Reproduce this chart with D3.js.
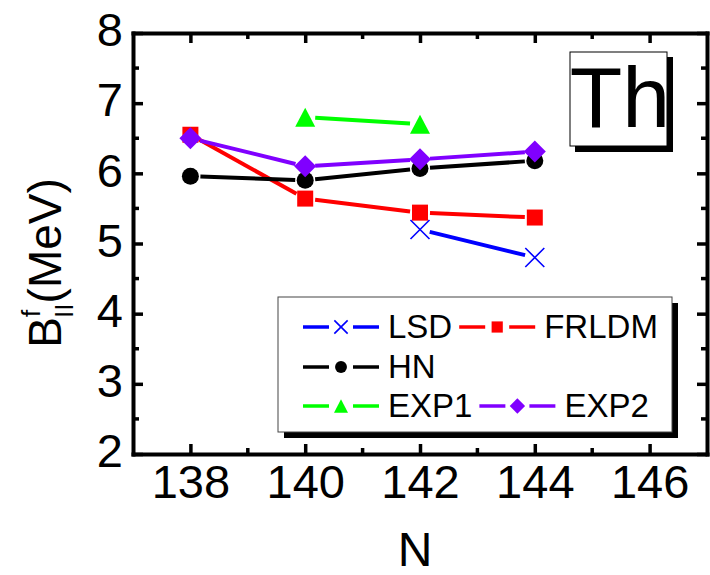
<!DOCTYPE html>
<html>
<head>
<meta charset="utf-8">
<script src="https://cdn.jsdelivr.net/npm/d3@7"></script>
<style>
  body { margin: 0; background: #fff; }
  svg text { font-family: "Liberation Sans", Arial, sans-serif; fill: #000; }
</style>
</head>
<body>
<div id="chart"></div>
<script>
// neutron numbers and barrier heights (MeV)
const nValues = [138, 140, 142, 144];
const lsd = [null, null, 5.20, 4.80];
const frldm = [6.55, 5.64, 5.44, 5.37];
const hn = [5.96, 5.90, 6.07, 6.18];
const exp1 = [null, 6.80, 6.70, null];
const exp2 = [6.50, 6.10, 6.20, 6.31];

const xTicks = [138, 140, 142, 144, 146];
const xMinor = [139, 141, 143, 145];
const yTicks = [2, 3, 4, 5, 6, 7, 8];
const yMinor = [2.5, 3.5, 4.5, 5.5, 6.5, 7.5];

const series = [
  { name: "LSD", values: lsd, color: "#0000ff", marker: "x" },
  { name: "FRLDM", values: frldm, color: "#ff0000", marker: "square" },
  { name: "HN", values: hn, color: "#000000", marker: "circle" },
  { name: "EXP1", values: exp1, color: "#00ff00", marker: "triangle" },
  { name: "EXP2", values: exp2, color: "#8000ff", marker: "diamond" }
];
// legend rows (Origin style, items flow left to right)
const legendRows = [["LSD", "FRLDM"], ["HN"], ["EXP1", "EXP2"]];

const width = 710, height = 575;
const svg = d3.select("#chart").append("svg")
  .attr("width", width).attr("height", height);

const x = d3.scaleLinear().domain([137, 147]).range([133, 707]);
const y = d3.scaleLinear().domain([2, 8]).range([454, 33]);

function markerPath(type, s) {
  // s = scale factor (1 for plot, smaller for legend)
  if (type === "square") { const h = 8 * s; return `M${-h},${-h}H${h}V${h}H${-h}Z`; }
  if (type === "circle") { const r = 8.5 * s; return `M${r},0A${r},${r} 0 1,1 ${-r},0A${r},${r} 0 1,1 ${r},0Z`; }
  if (type === "triangle") { const w = 10 * s, h = 9.5 * s; return `M0,${-h}L${w},${h}L${-w},${h}Z`; }
  if (type === "diamond") { const d = 11 * s; return `M0,${-d}L${d},0L0,${d}L${-d},0Z`; }
  const r = 9.5 * s;
  return `M${-r},${-r}L${r},${r}M${-r},${r}L${r},${-r}`;
}

function drawMarker(g, type, color, s) {
  const p = g.append("path").attr("d", markerPath(type, s));
  if (type === "x") p.attr("fill", "none").attr("stroke", color).attr("stroke-width", 1.6);
  else p.attr("fill", color);
  return p;
}

// axes: bottom/top/left/right, ticks point inward
const axisG = svg.append("g");
function styleAxis(g) {
  g.select(".domain").attr("stroke-width", 4).attr("stroke-linecap", "square");
  g.selectAll(".tick line").attr("stroke-width", 3.5);
  g.selectAll("text").attr("font-size", 47).attr("font-family", null);
}

axisG.append("g").attr("transform", `translate(0,${y(2)})`)
  .call(d3.axisBottom(x).tickValues(xTicks).tickSize(-10).tickSizeOuter(0).tickPadding(10.5).tickFormat(d3.format("d")))
  .call(styleAxis);
axisG.append("g").attr("transform", `translate(0,${y(8)})`)
  .call(d3.axisTop(x).tickValues(xTicks).tickSize(-10).tickSizeOuter(0).tickFormat(""))
  .call(styleAxis);
axisG.append("g").attr("transform", `translate(${x(137)},0)`)
  .call(d3.axisLeft(y).tickValues(yTicks).tickSize(-10).tickSizeOuter(0).tickPadding(10).tickFormat(d3.format("d")))
  .call(styleAxis)
  .selectAll("text").attr("dy", "0.27em");
axisG.append("g").attr("transform", `translate(${x(147)},0)`)
  .call(d3.axisRight(y).tickValues(yTicks).tickSize(-10).tickSizeOuter(0).tickFormat(""))
  .call(styleAxis);

// minor ticks
const minorG = axisG.append("g").attr("stroke", "#000").attr("stroke-width", 3.5);
xMinor.forEach(v => {
  minorG.append("line").attr("x1", x(v)).attr("x2", x(v)).attr("y1", y(2)).attr("y2", y(2) - 6);
  minorG.append("line").attr("x1", x(v)).attr("x2", x(v)).attr("y1", y(8)).attr("y2", y(8) + 6);
});
yMinor.forEach(v => {
  minorG.append("line").attr("x1", x(137)).attr("x2", x(137) + 6).attr("y1", y(v)).attr("y2", y(v));
  minorG.append("line").attr("x1", x(147)).attr("x2", x(147) - 6).attr("y1", y(v)).attr("y2", y(v));
});

// axis titles
svg.append("text")
  .attr("x", (x(137) + x(147)) / 2 - 5).attr("y", 566)
  .attr("text-anchor", "middle").attr("font-size", 48)
  .text("N");

const yl = svg.append("text")
  .attr("transform", "translate(61,263) rotate(-90)")
  .attr("text-anchor", "middle").attr("font-size", 46);
yl.append("tspan").text("B");
yl.append("tspan").attr("font-size", 26).attr("dy", -21).text("f");
yl.append("tspan").attr("font-size", 26).attr("dx", -8).attr("dy", 33).text("II");
yl.append("tspan").attr("dy", -12).text("(MeV)");

// data lines (segments stop short of the markers) and markers
const gap = 10;
const plotG = svg.append("g");
series.forEach(s => {
  const pts = nValues.map((n, i) => s.values[i] == null ? null : [x(n), y(s.values[i])]);
  const g = plotG.append("g");
  for (let i = 0; i < pts.length - 1; i++) {
    const a = pts[i], b = pts[i + 1];
    if (!a || !b) continue;
    const dx = b[0] - a[0], dy = b[1] - a[1], len = Math.hypot(dx, dy);
    const ux = dx / len, uy = dy / len;
    g.append("line")
      .attr("x1", a[0] + ux * gap).attr("y1", a[1] + uy * gap)
      .attr("x2", b[0] - ux * gap).attr("y2", b[1] - uy * gap)
      .attr("stroke", s.color).attr("stroke-width", 4);
  }
  pts.forEach(p => {
    if (!p) return;
    drawMarker(g, s.marker, s.color, 1).attr("transform", `translate(${p[0]},${p[1]})`);
  });
});

// "Th" label box
const thG = svg.append("g");
thG.append("rect").attr("x", 575).attr("y", 57).attr("width", 98).attr("height", 95).attr("fill", "#000");
thG.append("rect").attr("x", 570).attr("y", 52).attr("width", 97).attr("height", 94)
  .attr("fill", "#fff").attr("stroke", "#000").attr("stroke-width", 1);
thG.append("text").attr("x", 620).attr("y", 127).attr("text-anchor", "middle")
  .attr("font-size", 86).text("Th");

// legend
const lg = svg.append("g");
lg.append("rect").attr("x", 284).attr("y", 303).attr("width", 394).attr("height", 135).attr("fill", "#000");
lg.append("rect").attr("x", 278).attr("y", 297).attr("width", 394).attr("height", 135)
  .attr("fill", "#fff").attr("stroke", "#444").attr("stroke-width", 1);
const rowY = [327, 367, 406];
legendRows.forEach((row, ri) => {
  let cx = 303;
  row.forEach(name => {
    const s = series.find(d => d.name === name);
    const yy = rowY[ri];
    const item = lg.append("g");
    item.append("line").attr("x1", cx).attr("x2", cx + 26).attr("y1", yy).attr("y2", yy)
      .attr("stroke", s.color).attr("stroke-width", 3.5);
    item.append("line").attr("x1", cx + 50).attr("x2", cx + 76).attr("y1", yy).attr("y2", yy)
      .attr("stroke", s.color).attr("stroke-width", 3.5);
    drawMarker(item, s.marker, s.color, 0.7).attr("transform", `translate(${cx + 38},${yy})`);
    const t = item.append("text").attr("x", cx + 85).attr("y", yy + 11)
      .attr("font-size", 33).text(name);
    cx = cx + 85 + t.node().getComputedTextLength() + 7;
  });
});
</script>
</body>
</html>
